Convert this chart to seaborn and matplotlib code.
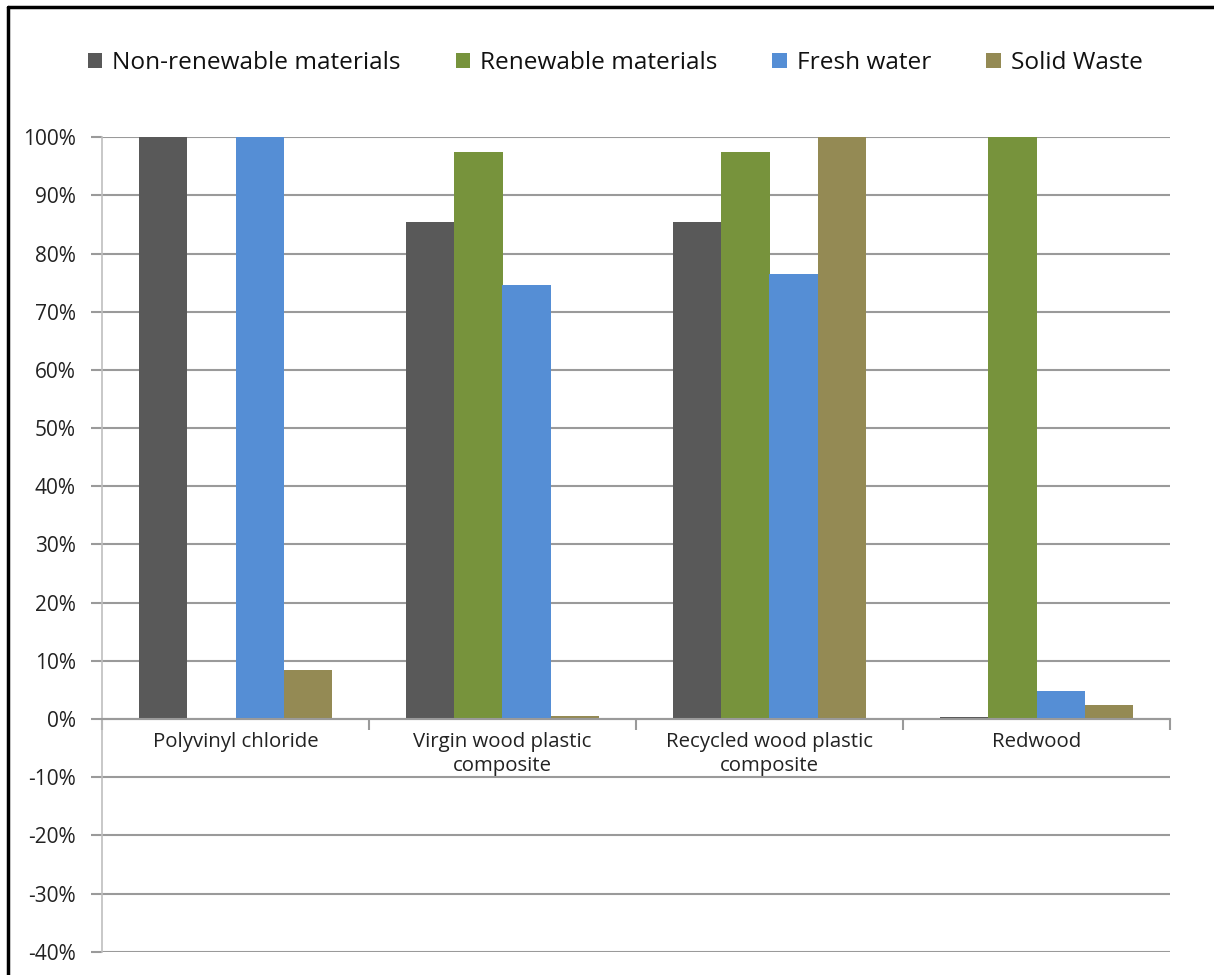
import matplotlib
matplotlib.use("Agg")
import matplotlib.pyplot as plt
import matplotlib.ticker as mticker
from matplotlib.lines import Line2D
import seaborn as sns
import pandas as pd

# Relative environmental impact of decking materials
categories = ["Polyvinyl chloride", "Virgin wood plastic\ncomposite",
              "Recycled wood plastic\ncomposite", "Redwood"]
series = ["Non-renewable materials", "Renewable materials", "Fresh water", "Solid Waste"]

non_renewable = [1.000, 0.854, 0.854, 0.004]
renewable = [0.000, 0.975, 0.975, 1.000]
fresh_water = [1.000, 0.746, 0.765, 0.049]
solid_waste = [0.084, 0.006, 1.000, 0.024]

colors = ["#595959", "#77933C", "#558ED5", "#948A54"]
y_ticks = [-0.4, -0.3, -0.2, -0.1, 0.0, 0.1, 0.2, 0.3, 0.4, 0.5, 0.6, 0.7, 0.8, 0.9, 1.0]

rows = []
for name, values in zip(series, [non_renewable, renewable, fresh_water, solid_waste]):
    for cat, v in zip(categories, values):
        rows.append({"Material": cat, "Indicator": name, "Value": v})
df = pd.DataFrame(rows)

sns.set_theme(style="white")
plt.rcParams["font.family"] = ["Open Sans", "DejaVu Sans"]
plt.rcParams["axes.unicode_minus"] = False

fig = plt.figure(figsize=(12.14, 9.75), dpi=100)
ax = fig.add_axes([102 / 1214, 23.3 / 975, (1170 - 102) / 1214, (951.7 - 137.3) / 975])

sns.barplot(data=df, x="Material", y="Value", hue="Indicator", order=categories,
            hue_order=series, palette=colors, width=0.72, linewidth=0,
            saturation=1, ax=ax, errorbar=None)

ax.set_ylim(-0.4, 1.0)
ax.set_xlim(-0.5, len(categories) - 0.5)
ax.set_yticks(y_ticks)
ax.yaxis.set_major_formatter(mticker.PercentFormatter(1.0, decimals=0))
ax.set_xlabel("")
ax.set_ylabel("")

grid_color = "#9a9a9a"
ax.grid(axis="y", color=grid_color, linewidth=1.5)
ax.set_axisbelow(True)

for side in ["top", "right"]:
    ax.spines[side].set_visible(False)
ax.spines["left"].set_color("#bfbfbf")
ax.spines["left"].set_linewidth(1.2)
ax.spines["bottom"].set_position(("data", 0))
ax.spines["bottom"].set_color(grid_color)
ax.spines["bottom"].set_linewidth(1.5)

ax.tick_params(axis="y", which="major", length=8, width=1.5, color=grid_color,
               direction="out", left=True, pad=11, labelsize=15, labelcolor="#222222")
ax.tick_params(axis="x", which="major", length=0, pad=9, labelsize=14.7, labelcolor="#222222")
ax.set_xticks([i - 0.5 for i in range(len(categories) + 1)], minor=True)
ax.tick_params(axis="x", which="minor", length=8, width=1.5, color=grid_color,
               direction="out", bottom=True)
for lbl in ax.get_xticklabels():
    lbl.set_horizontalalignment("center")
    lbl.set_multialignment("center")
    lbl.set_linespacing(1.3)

sns.move_legend(ax, "center", bbox_to_anchor=(0.5067, 1 - 63 / 975),
                bbox_transform=fig.transFigure, ncol=4, frameon=False, title=None,
                fontsize=17.6, handlelength=0.6, handleheight=0.6, handletextpad=0.4,
                columnspacing=2.25)
for t in ax.get_legend().get_texts():
    t.set_color("#111111")

# Chart frame edges
fig.add_artist(Line2D([8 / 1214, 8 / 1214], [0, 1 - 7 / 975], transform=fig.transFigure,
                      color="black", linewidth=2.5))
fig.add_artist(Line2D([8 / 1214, 1], [1 - 7 / 975, 1 - 7 / 975], transform=fig.transFigure,
                      color="black", linewidth=2.5))

fig.savefig("out.png", dpi=100, facecolor="white")
